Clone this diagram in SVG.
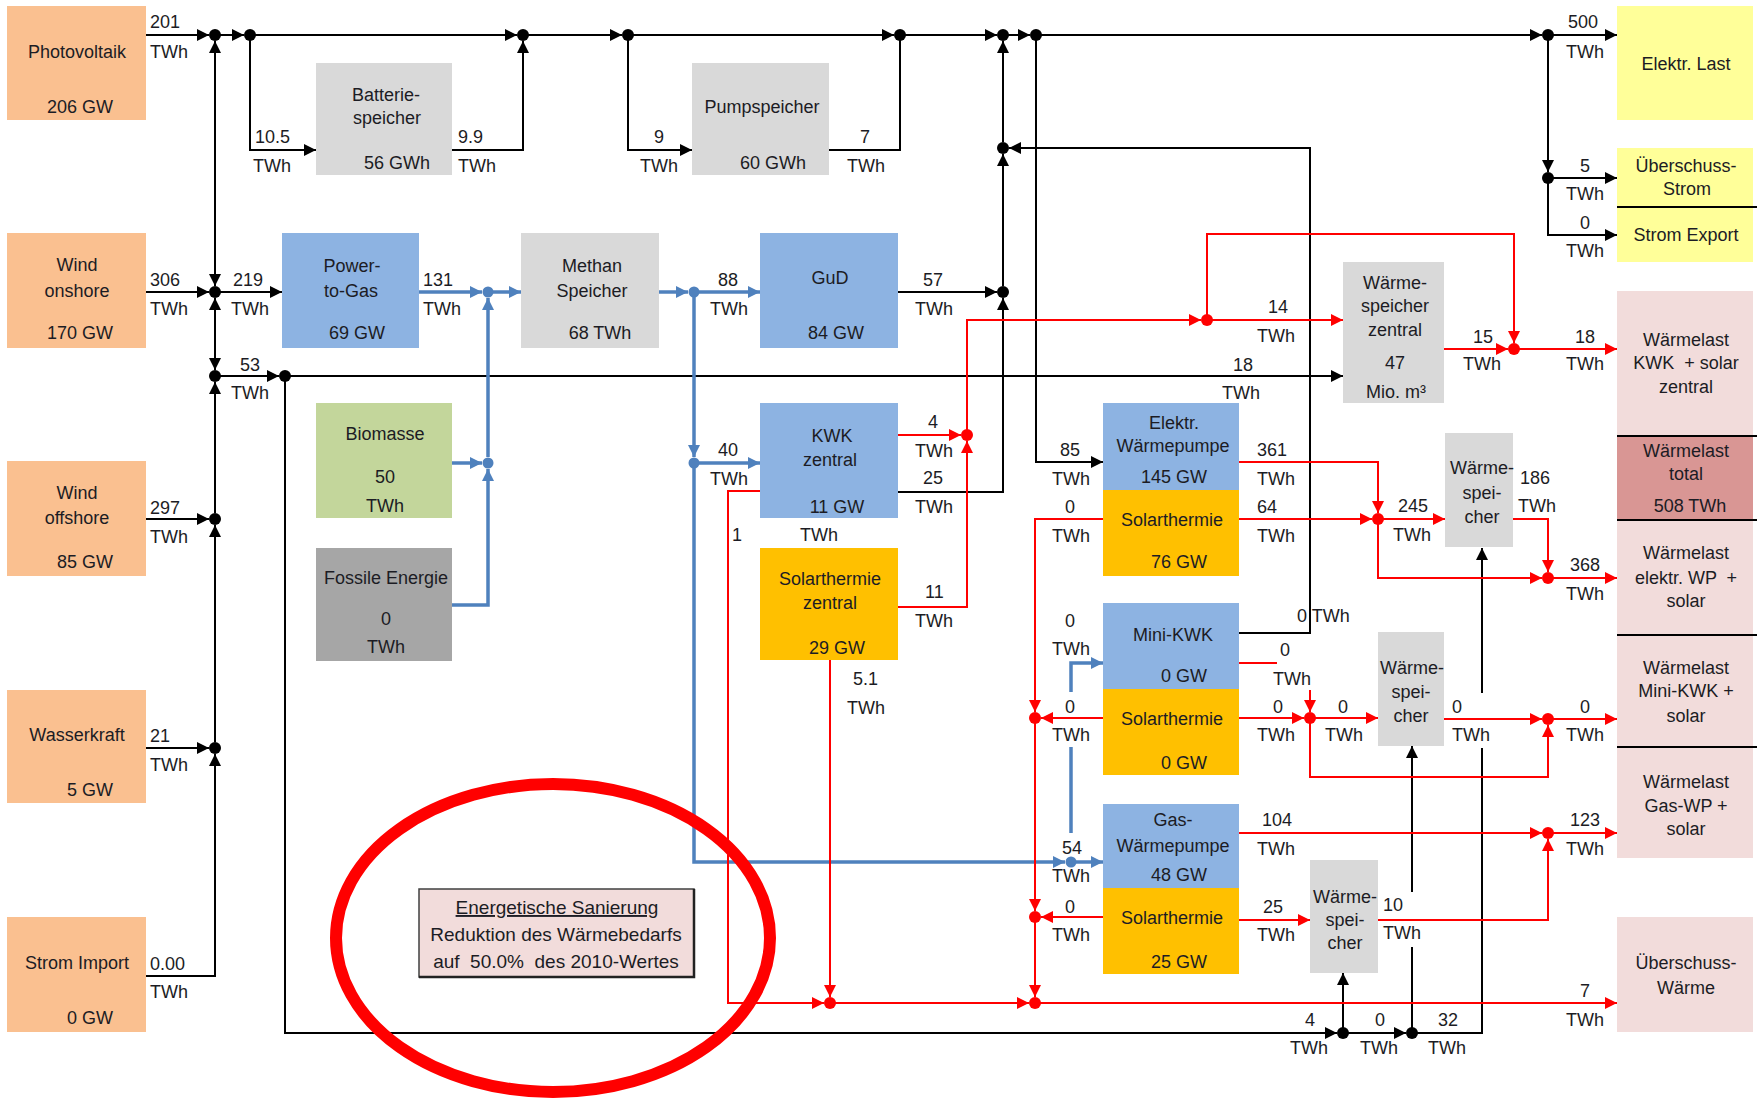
<svg xmlns="http://www.w3.org/2000/svg" width="1758" height="1098" viewBox="0 0 1758 1098">
<defs>
<marker id="ak" viewBox="0 0 12 12" markerUnits="userSpaceOnUse" markerWidth="12" markerHeight="12" refX="12" refY="6" orient="auto-start-reverse"><path d="M0,0L12,6L0,12z" fill="#000"/></marker>
<marker id="ab" viewBox="0 0 12 12" markerUnits="userSpaceOnUse" markerWidth="12" markerHeight="12" refX="12" refY="6" orient="auto-start-reverse"><path d="M0,0L12,6L0,12z" fill="#4f81bd"/></marker>
<marker id="ar" viewBox="0 0 12 12" markerUnits="userSpaceOnUse" markerWidth="12" markerHeight="12" refX="12" refY="6" orient="auto-start-reverse"><path d="M0,0L12,6L0,12z" fill="#ff0000"/></marker>
</defs>
<style>
text{font-family:"Liberation Sans",Arial,sans-serif;font-size:18px;fill:#1c1c24}
.c{text-anchor:middle}
.e{text-anchor:end}
.k{fill:none;stroke:#000;stroke-width:2}
.b{fill:none;stroke:#4f81bd;stroke-width:3.5}
.r{fill:none;stroke:#ff0000;stroke-width:2}
.k.m{marker-end:url(#ak)}
.b.m{marker-end:url(#ab)}
.r.m{marker-end:url(#ar)}
.k.s{marker-start:url(#ak)}
.dk{fill:#000}
.db{fill:#4f81bd}
.dr{fill:#ff0000}
.src{fill:#fac090}
.sto{fill:#d9d9d9}
.cnv{fill:#8db3e2}
.sol{fill:#ffc000}
.ld{fill:#ffff99}
.hl{fill:#f2dcdb}
.sep{stroke:#000;stroke-width:2}
</style>
<rect width="1758" height="1098" fill="#fff"/>

<g id="connectors">
<!-- black electricity -->
<path class="k m" d="M146,35H209"/>
<path class="k m" d="M215,35H244"/>
<path class="k m" d="M250,35H517"/>
<path class="k m" d="M523,35H622"/>
<path class="k m" d="M628,35H894"/>
<path class="k m" d="M900,35H997"/>
<path class="k m" d="M1003,35H1030"/>
<path class="k m" d="M1036,35H1542"/>
<path class="k m" d="M1548,35H1617"/>
<path class="k m" d="M250,35V150H316"/>
<path class="k m" d="M452,150H523V41"/>
<path class="k m" d="M628,35V150H692"/>
<path class="k" d="M829,150H900V35"/>
<path class="k m s" d="M215,286V41"/>
<path class="k m s" d="M215,298V370"/>
<path class="k m" d="M215,513V382"/>
<path class="k m" d="M215,742V525"/>
<path class="k m" d="M146,976H215V754"/>
<path class="k m" d="M146,292H209"/>
<path class="k m" d="M215,292H282"/>
<path class="k m" d="M146,519H209"/>
<path class="k m" d="M146,748H209"/>
<path class="k m" d="M215,376H279"/>
<path class="k m" d="M285,376H1343"/>
<path class="k m" d="M285,376V1033H1337"/>
<path class="k m" d="M1343,1033H1406"/>
<path class="k m" d="M1412,1033H1482V748M1482,693V548"/>
<path class="k m" d="M1343,1033V973"/>
<path class="k m" d="M1412,1033V947M1412,892V746"/>
<path class="k m" d="M1003,142V41"/>
<path class="k m" d="M1003,286V154"/>
<path class="k m" d="M898,292H997"/>
<path class="k m" d="M898,492H1003V298"/>
<path class="k m" d="M1239,633H1310V148H1009"/>
<path class="k m" d="M1036,35V462H1103"/>
<path class="k m" d="M1548,35V172"/>
<path class="k m" d="M1548,178H1617"/>
<path class="k m" d="M1548,178V235H1617"/>
<!-- blue gas -->
<path class="b m" d="M419,292H482"/>
<path class="b m" d="M488,292H521"/>
<path class="b m" d="M452,463H482"/>
<path class="b m" d="M488,457V298"/>
<path class="b m" d="M452,605H488V469"/>
<path class="b m" d="M659,292H688"/>
<path class="b m" d="M694,292H760"/>
<path class="b m" d="M694,292V457"/>
<path class="b m" d="M694,463H760"/>
<path class="b m" d="M694,463V862H1065"/>
<path class="b m" d="M1071,862H1103"/>
<path class="b m" d="M1071,833V747M1071,692V663H1103"/>
<!-- red heat -->
<path class="r m" d="M898,435H961"/>
<path class="r m" d="M898,607H967V441"/>
<path class="r m" d="M967,435V320H1201"/>
<path class="r m" d="M1207,320H1343"/>
<path class="r m" d="M1207,320V234H1514V343"/>
<path class="r m" d="M1444,349H1508"/>
<path class="r m" d="M1514,349H1617"/>
<path class="r m" d="M1239,462H1378V513"/>
<path class="r m" d="M1239,519H1372"/>
<path class="r m" d="M1378,519H1445"/>
<path class="r m" d="M1378,519V578H1542"/>
<path class="r m" d="M1513,519H1548V572"/>
<path class="r m" d="M1548,578H1617"/>
<path class="r m" d="M1103,519H1035V712"/>
<path class="r m" d="M1103,718H1041"/>
<path class="r m" d="M1035,718V911"/>
<path class="r m" d="M1103,917H1041"/>
<path class="r m" d="M1035,917V997"/>
<path class="r m" d="M760,491H728V1003H824"/>
<path class="r m" d="M830,660V997"/>
<path class="r m" d="M830,1003H1029"/>
<path class="r m" d="M1035,1003H1617"/>
<path class="r m" d="M1239,663H1277M1310,690V712"/>
<path class="r m" d="M1239,718H1304"/>
<path class="r m" d="M1310,718H1378"/>
<path class="r m" d="M1310,718V777H1548V725"/>
<path class="r m" d="M1444,719H1542"/>
<path class="r m" d="M1548,719H1617"/>
<path class="r m" d="M1239,833H1542"/>
<path class="r m" d="M1378,920H1548V839"/>
<path class="r m" d="M1548,833H1617"/>
<path class="r m" d="M1239,920H1310"/>
<!-- junctions -->
<g class="dk">
<circle cx="215" cy="35" r="6"/><circle cx="250" cy="35" r="6"/><circle cx="523" cy="35" r="6"/><circle cx="628" cy="35" r="6"/>
<circle cx="900" cy="35" r="6"/><circle cx="1003" cy="35" r="6"/><circle cx="1036" cy="35" r="6"/><circle cx="1548" cy="35" r="6"/>
<circle cx="1548" cy="178" r="6"/><circle cx="215" cy="292" r="6"/><circle cx="215" cy="376" r="6"/><circle cx="215" cy="519" r="6"/>
<circle cx="215" cy="748" r="6"/><circle cx="285" cy="376" r="6"/><circle cx="1003" cy="148" r="6"/><circle cx="1003" cy="292" r="6"/>
<circle cx="1343" cy="1033" r="6"/><circle cx="1412" cy="1033" r="6"/>
</g>
<g class="db">
<circle cx="488" cy="292" r="5.5"/><circle cx="488" cy="463" r="5.5"/><circle cx="694" cy="292" r="5.5"/><circle cx="694" cy="463" r="5.5"/><circle cx="1071" cy="862" r="5.5"/>
</g>
<g class="dr">
<circle cx="967" cy="435" r="6"/><circle cx="1207" cy="320" r="6"/><circle cx="1514" cy="349" r="6"/><circle cx="1378" cy="519" r="6"/>
<circle cx="1548" cy="578" r="6"/><circle cx="1035" cy="718" r="6"/><circle cx="1035" cy="917" r="6"/><circle cx="1035" cy="1003" r="6"/>
<circle cx="830" cy="1003" r="6"/><circle cx="1310" cy="718" r="6"/><circle cx="1548" cy="719" r="6"/><circle cx="1548" cy="833" r="6"/>
</g>
<!-- labels -->
<g id="labels">
<text x="150" y="28">201</text><text x="150" y="58">TWh</text>
<text x="255" y="143">10.5</text><text x="253" y="172">TWh</text>
<text x="458" y="143">9.9</text><text x="458" y="172">TWh</text>
<text x="654" y="143">9</text><text x="640" y="172">TWh</text>
<text x="860" y="143">7</text><text x="847" y="172">TWh</text>
<text x="150" y="286">306</text><text x="150" y="315">TWh</text>
<text x="233" y="286">219</text><text x="231" y="315">TWh</text>
<text x="240" y="371">53</text><text x="231" y="399">TWh</text>
<text x="423" y="286">131</text><text x="423" y="315">TWh</text>
<text x="718" y="286">88</text><text x="710" y="315">TWh</text>
<text x="923" y="286">57</text><text x="915" y="315">TWh</text>
<text x="1268" y="313">14</text><text x="1257" y="342">TWh</text>
<text x="1233" y="371">18</text><text x="1222" y="399">TWh</text>
<text x="1568" y="28">500</text><text x="1566" y="58">TWh</text>
<text x="1580" y="172">5</text><text x="1566" y="200">TWh</text>
<text x="1580" y="229">0</text><text x="1566" y="257">TWh</text>
<text x="1473" y="343">15</text><text x="1463" y="370">TWh</text>
<text x="1575" y="343">18</text><text x="1566" y="370">TWh</text>
<text x="150" y="514">297</text><text x="150" y="543">TWh</text>
<text x="150" y="742">21</text><text x="150" y="771">TWh</text>
<text x="150" y="970">0.00</text><text x="150" y="998">TWh</text>
<text x="718" y="456">40</text><text x="710" y="485">TWh</text>
<text x="928" y="428">4</text><text x="915" y="457">TWh</text>
<text x="923" y="484">25</text><text x="915" y="513">TWh</text>
<text x="732" y="541">1</text><text x="800" y="541">TWh</text>
<text x="925" y="598">11</text><text x="915" y="627">TWh</text>
<text x="853" y="685">5.1</text><text x="847" y="714">TWh</text>
<text x="1060" y="456">85</text><text x="1052" y="485">TWh</text>
<text x="1257" y="456">361</text><text x="1257" y="485">TWh</text>
<text x="1065" y="513">0</text><text x="1052" y="542">TWh</text>
<text x="1257" y="513">64</text><text x="1257" y="542">TWh</text>
<text x="1398" y="512">245</text><text x="1393" y="541">TWh</text>
<text x="1520" y="484">186</text><text x="1518" y="512">TWh</text>
<text x="1570" y="571">368</text><text x="1566" y="600">TWh</text>
<text x="1297" y="622">0 TWh</text>
<text x="1065" y="627">0</text><text x="1052" y="655">TWh</text>
<text x="1280" y="656">0</text><text x="1273" y="685">TWh</text>
<text x="1065" y="713">0</text><text x="1052" y="741">TWh</text>
<text x="1273" y="713">0</text><text x="1257" y="741">TWh</text>
<text x="1338" y="713">0</text><text x="1325" y="741">TWh</text>
<text x="1452" y="713">0</text><text x="1452" y="741">TWh</text>
<text x="1580" y="713">0</text><text x="1566" y="741">TWh</text>
<text x="1262" y="826">104</text><text x="1257" y="855">TWh</text>
<text x="1062" y="854">54</text><text x="1052" y="882">TWh</text>
<text x="1570" y="826">123</text><text x="1566" y="855">TWh</text>
<text x="1065" y="913">0</text><text x="1052" y="941">TWh</text>
<text x="1263" y="913">25</text><text x="1257" y="941">TWh</text>
<text x="1383" y="911">10</text><text x="1383" y="939">TWh</text>
<text x="1580" y="997">7</text><text x="1566" y="1026">TWh</text>
<text x="1305" y="1026">4</text><text x="1290" y="1054">TWh</text>
<text x="1375" y="1026">0</text><text x="1360" y="1054">TWh</text>
<text x="1438" y="1026">32</text><text x="1428" y="1054">TWh</text>
</g>
</g>

<g id="photovoltaik"><rect class="src" x="7" y="6" width="139" height="114"/><text class="c" x="77" y="58">Photovoltaik</text><text class="e" x="113" y="113">206 GW</text></g>
<g id="wind-onshore"><rect class="src" x="7" y="233" width="139" height="115"/><text class="c" x="77" y="271">Wind</text><text class="c" x="77" y="297">onshore</text><text class="e" x="113" y="339">170 GW</text></g>
<g id="wind-offshore"><rect class="src" x="7" y="461" width="139" height="115"/><text class="c" x="77" y="499">Wind</text><text class="c" x="77" y="524">offshore</text><text class="e" x="113" y="568">85 GW</text></g>
<g id="wasserkraft"><rect class="src" x="7" y="690" width="139" height="113"/><text class="c" x="77" y="741">Wasserkraft</text><text class="e" x="113" y="796">5 GW</text></g>
<g id="strom-import"><rect class="src" x="7" y="917" width="139" height="115"/><text class="c" x="77" y="969">Strom Import</text><text class="e" x="113" y="1024">0 GW</text></g>

<g id="batteriespeicher"><rect class="sto" x="316" y="63" width="136" height="112"/><text class="c" x="386" y="101">Batterie-</text><text class="c" x="387" y="124">speicher</text><text class="c" x="397" y="169">56 GWh</text></g>
<g id="pumpspeicher"><rect class="sto" x="692" y="63" width="137" height="112"/><text class="c" x="762" y="113">Pumpspeicher</text><text class="c" x="773" y="169">60 GWh</text></g>
<g id="power-to-gas"><rect class="cnv" x="282" y="233" width="137" height="115"/><text class="c" x="352" y="272">Power-</text><text class="c" x="351" y="297">to-Gas</text><text class="c" x="357" y="339">69 GW</text></g>
<g id="methan-speicher"><rect class="sto" x="521" y="233" width="138" height="115"/><text class="c" x="592" y="272">Methan</text><text class="c" x="592" y="297">Speicher</text><text class="c" x="600" y="339">68 TWh</text></g>
<g id="gud"><rect class="cnv" x="760" y="233" width="138" height="115"/><text class="c" x="830" y="284">GuD</text><text class="c" x="836" y="339">84 GW</text></g>
<g id="biomasse"><rect x="316" y="403" width="136" height="115" fill="#c3d69b"/><text class="c" x="385" y="440">Biomasse</text><text class="c" x="385" y="483">50</text><text class="c" x="385" y="512">TWh</text></g>
<g id="fossile-energie"><rect x="316" y="548" width="136" height="113" fill="#a6a6a6"/><text class="c" x="386" y="584">Fossile Energie</text><text class="c" x="386" y="625">0</text><text class="c" x="386" y="653">TWh</text></g>
<g id="kwk-zentral"><rect class="cnv" x="760" y="403" width="138" height="115"/><text class="c" x="832" y="442">KWK</text><text class="c" x="830" y="466">zentral</text><text class="c" x="837" y="513">11 GW</text></g>
<g id="solarthermie-zentral"><rect class="sol" x="760" y="548" width="138" height="112"/><text class="c" x="830" y="585">Solarthermie</text><text class="c" x="830" y="609">zentral</text><text class="c" x="837" y="654">29 GW</text></g>

<g id="elektr-waermepumpe"><rect class="cnv" x="1103" y="403" width="136" height="87"/><text class="c" x="1174" y="429">Elektr.</text><text class="c" x="1173" y="452">Wärmepumpe</text><text class="c" x="1174" y="483">145 GW</text></g>
<g id="solarthermie-ewp"><rect class="sol" x="1103" y="490" width="136" height="86"/><text class="c" x="1172" y="526">Solarthermie</text><text class="c" x="1179" y="568">76 GW</text></g>
<g id="mini-kwk"><rect class="cnv" x="1103" y="603" width="136" height="86"/><text class="c" x="1173" y="641">Mini-KWK</text><text class="c" x="1184" y="682">0 GW</text></g>
<g id="solarthermie-mini"><rect class="sol" x="1103" y="689" width="136" height="86"/><text class="c" x="1172" y="725">Solarthermie</text><text class="c" x="1184" y="769">0 GW</text></g>
<g id="gas-waermepumpe"><rect class="cnv" x="1103" y="804" width="136" height="84"/><text class="c" x="1173" y="826">Gas-</text><text class="c" x="1173" y="852">Wärmepumpe</text><text class="c" x="1179" y="881">48 GW</text></g>
<g id="solarthermie-gas"><rect class="sol" x="1103" y="888" width="136" height="86"/><text class="c" x="1172" y="924">Solarthermie</text><text class="c" x="1179" y="968">25 GW</text></g>

<g id="waermespeicher-zentral"><rect class="sto" x="1343" y="262" width="101" height="141"/><text class="c" x="1395" y="289">Wärme-</text><text class="c" x="1395" y="312">speicher</text><text class="c" x="1395" y="336">zentral</text><text class="c" x="1395" y="369">47</text><text class="c" x="1396" y="398">Mio. m³</text></g>
<g id="waermespeicher-ewp"><rect class="sto" x="1445" y="433" width="68" height="114"/><text class="c" x="1482" y="474">Wärme-</text><text class="c" x="1482" y="499">spei-</text><text class="c" x="1482" y="523">cher</text></g>
<g id="waermespeicher-mini"><rect class="sto" x="1378" y="632" width="66" height="114"/><text class="c" x="1412" y="674">Wärme-</text><text class="c" x="1411" y="698">spei-</text><text class="c" x="1411" y="722">cher</text></g>
<g id="waermespeicher-gas"><rect class="sto" x="1310" y="860" width="68" height="113"/><text class="c" x="1345" y="903">Wärme-</text><text class="c" x="1345" y="926">spei-</text><text class="c" x="1345" y="949">cher</text></g>

<g id="elektr-last"><rect class="ld" x="1617" y="6" width="136" height="114"/><text class="c" x="1686" y="70">Elektr. Last</text></g>
<g id="ueberschuss-strom"><rect class="ld" x="1617" y="148" width="136" height="59"/><text class="c" x="1686" y="172">Überschuss-</text><text class="c" x="1687" y="195">Strom</text></g>
<g id="strom-export"><rect class="ld" x="1617" y="208" width="136" height="54"/><text class="c" x="1686" y="241">Strom Export</text><line class="sep" x1="1617" y1="207" x2="1757" y2="207"/></g>
<g id="waermelast-kwk"><rect class="hl" x="1617" y="291" width="136" height="145"/><text class="c" x="1686" y="346">Wärmelast</text><text class="c" x="1686" y="369" xml:space="preserve">KWK  + solar</text><text class="c" x="1686" y="393">zentral</text></g>
<g id="waermelast-total"><rect x="1617" y="436" width="136" height="84" fill="#d99694"/><text class="c" x="1686" y="457">Wärmelast</text><text class="c" x="1686" y="480">total</text><text class="c" x="1690" y="512">508 TWh</text><line class="sep" x1="1617" y1="436" x2="1757" y2="436"/><line class="sep" x1="1617" y1="520" x2="1757" y2="520"/></g>
<g id="waermelast-ewp"><rect class="hl" x="1617" y="521" width="136" height="114"/><text class="c" x="1686" y="559">Wärmelast</text><text class="c" x="1686" y="584" xml:space="preserve">elektr. WP  +</text><text class="c" x="1686" y="607">solar</text><line class="sep" x1="1617" y1="635" x2="1757" y2="635"/></g>
<g id="waermelast-mini"><rect class="hl" x="1617" y="636" width="136" height="111"/><text class="c" x="1686" y="674">Wärmelast</text><text class="c" x="1686" y="697">Mini-KWK +</text><text class="c" x="1686" y="722">solar</text><line class="sep" x1="1617" y1="747" x2="1757" y2="747"/></g>
<g id="waermelast-gas"><rect class="hl" x="1617" y="748" width="136" height="110"/><text class="c" x="1686" y="788">Wärmelast</text><text class="c" x="1686" y="812">Gas-WP +</text><text class="c" x="1686" y="835">solar</text></g>
<g id="ueberschuss-waerme"><rect class="hl" x="1617" y="917" width="136" height="115"/><text class="c" x="1686" y="969">Überschuss-</text><text class="c" x="1686" y="994">Wärme</text></g>

<g id="sanierung">
<rect x="419" y="889" width="275" height="88" fill="#f2dcdb" stroke="#404040" stroke-width="1.5"/>
<path d="M694,889V977H419" fill="none" stroke="#222" stroke-width="2.5"/>
<text class="c" x="557" y="914" style="font-size:19px;text-decoration:underline">Energetische Sanierung</text>
<text class="c" x="556" y="941" style="font-size:19px">Reduktion des Wärmebedarfs</text>
<text class="c" x="556" y="968" style="font-size:19px" xml:space="preserve">auf  50.0%  des 2010-Wertes</text>
</g>
<ellipse cx="553" cy="938" rx="217" ry="154" fill="none" stroke="#ff0000" stroke-width="12"/>
</svg>
